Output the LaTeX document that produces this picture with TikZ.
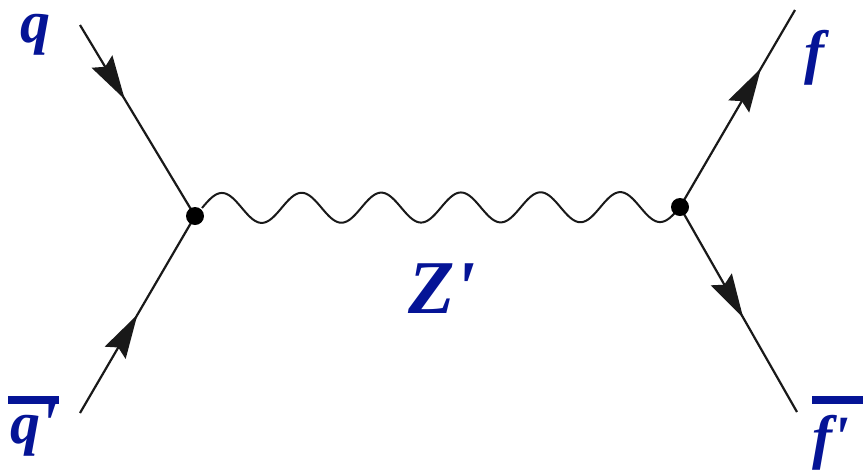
\documentclass[tikz,border=0pt]{standalone}
\usepackage{fontspec}
\setmainfont{Liberation Serif}
\usetikzlibrary{arrows.meta,calc,decorations.markings}
\definecolor{zblue}{RGB}{5,20,150}
\definecolor{lineg}{RGB}{25,25,25}
\tikzset{
  fermion/.style={draw=lineg, line width=1.1pt},
  farrow/.style={postaction=decorate, decoration={markings,
     mark=at position #1 with {\arrow{Stealth[length=22pt,width=12pt,inset=3pt]}}}},
  wave/.style={draw=lineg, line width=1pt},
  vdot/.style={circle, fill=black, inner sep=0pt, minimum size=9pt},
  lbl/.style={text=zblue, font=\fontsize{30pt}{30pt}\selectfont\bfseries\itshape, inner sep=0pt},
  biglbl/.style={text=zblue, font=\fontsize{38pt}{38pt}\selectfont\bfseries\itshape, inner sep=0pt}
}
\begin{document}
\begin{tikzpicture}[x=0.5pt,y=-0.5pt]
\useasboundingbox (0,0) rectangle (863,473);
\coordinate (L) at (195,216);
\coordinate (R) at (680,207);
\coordinate (W) at (202,208);
\coordinate (qa) at (80,25);
\coordinate (qb) at (80,413);
\coordinate (fa) at (795,10);
\coordinate (fb) at (797,412);
\draw[wave] let \p1=(W), \p2=(R) in
  plot[variable=\t, domain=0:1, samples=361, smooth]
  ({\x1+(\x2-\x1)*\t}, {\y1+(\y2-\y1)*\t+7.5pt*sin(2160*\t)});
\draw[fermion, farrow=0.39] (qa) -- (L);
\draw[fermion, farrow=0.50] (qb) -- (L);
\draw[fermion, farrow=0.705] (R) -- (fa);
\draw[fermion, farrow=0.54] (R) -- (fb);
\node[vdot] (Ldot) at (L) {};
\node[vdot] (Rdot) at (R) {};
\node[lbl, anchor=base west, text height=14pt] (lq) at (20,42) {q};
\node[lbl, anchor=base west] (lf) at (804,72) {f};
\node[lbl, anchor=base west] (lqb) at (10,443) {q\textquotesingle};
\node[lbl, anchor=base west] (lfb) at (812,457) {f\textquotesingle};
\node[biglbl, anchor=base west] (lz) at (408,313) {Z\textquotesingle};
\fill[zblue] (8,396) rectangle (59,404);
\fill[zblue] (812,396) rectangle (863,404);
\end{tikzpicture}
\end{document}
